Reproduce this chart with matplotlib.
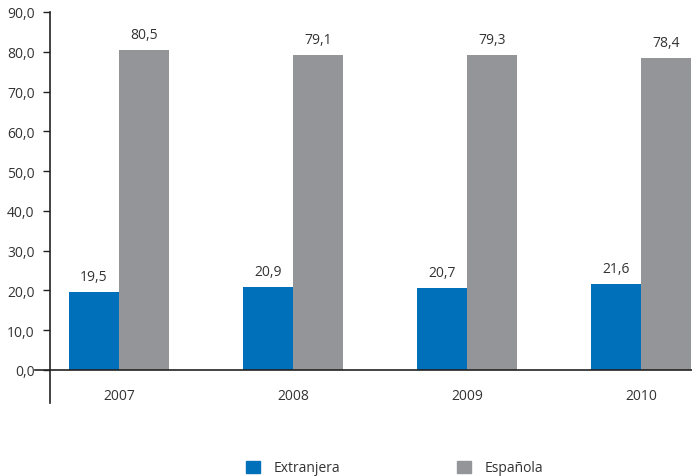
import matplotlib.pyplot as plt
from matplotlib.patches import Patch

years = ['2007', '2008', '2009', '2010']
extranjera = [19.5, 20.9, 20.7, 21.6]
espanola = [80.5, 79.1, 79.3, 78.4]

blue = '#0070bb'
grey = '#939598'
txt = '#333333'

plt.rcParams['font.family'] = ['Open Sans', 'DejaVu Sans']

fig = plt.figure(figsize=(6.92, 4.77), dpi=100)
ax = fig.add_axes([50/692, 1 - 404/477, 642/692, (404 - 13)/477])

w = 0.287
x = list(range(len(years)))
ax.bar([i - w/2 for i in x], extranjera, width=w, color=blue, label='Extranjera')
ax.bar([i + w/2 for i in x], espanola, width=w, color=grey, label='Española')

for i in x:
    ax.text(i - w/2, extranjera[i] + 2.0, f'{extranjera[i]:.1f}'.replace('.', ','),
            ha='center', va='bottom', fontsize=10, color=txt)
    ax.text(i + w/2, espanola[i] + 2.0, f'{espanola[i]:.1f}'.replace('.', ','),
            ha='center', va='bottom', fontsize=10, color=txt)
    ax.text(i, -6.5, years[i], ha='center', va='center', fontsize=10, color=txt)

ax.set_xlim((50 - 119) / 174, (692 - 119) / 174)
ax.set_ylim(-8.3, 90)
ax.set_yticks(range(0, 91, 10))
ax.set_yticklabels([f'{v:.1f}'.replace('.', ',') for v in range(0, 91, 10)],
                   fontsize=10, color=txt)
ax.tick_params(axis='y', length=5, width=1, color='#222222', pad=6)
ax.set_xticks([])
for s in ['top', 'right', 'bottom']:
    ax.spines[s].set_visible(False)
ax.spines['left'].set_color('#222222')
ax.spines['left'].set_linewidth(1.2)
ax.spines['left'].set_bounds(-8.3, 90)
ax.plot([(35 - 119) / 174, (692 - 119) / 174], [0, 0], color='#222222', lw=1.2,
        clip_on=False, zorder=3)

handles = [Patch(color=blue, label='Extranjera'), Patch(color=grey, label='Española')]
fig.legend(handles=handles, loc='center', bbox_to_anchor=(395/692, 1 - 469/477),
           ncol=2, frameon=False, fontsize=10, handlelength=1.0, handleheight=1.0,
           handletextpad=1.0, columnspacing=8.4, labelcolor=txt)

fig.savefig('out.png', dpi=100)
